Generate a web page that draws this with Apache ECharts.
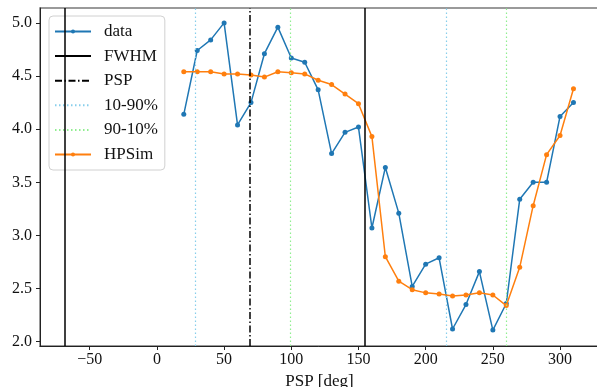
<!DOCTYPE html>
<html><head><meta charset="utf-8">
<script src="https://cdn.jsdelivr.net/npm/echarts@6/dist/echarts.min.js"></script>
<style>html,body{margin:0;padding:0;background:#fff}#c{width:597px;height:387px}</style>
</head><body><div id="c"></div>
<script>
const psp = [20,30,40,50,60,70,80,90,100,110,120,130,140,150,160,170,180,190,200,210,220,230,240,250,260,270,280,290,300,310];
const dataVals = [4.14,4.74,4.84,5.00,4.04,4.25,4.71,4.96,4.67,4.63,4.37,3.77,3.97,4.02,3.07,3.64,3.21,2.52,2.73,2.79,2.12,2.35,2.66,2.11,2.36,3.34,3.50,3.50,4.12,4.25];
const hpsimVals = [4.54,4.54,4.54,4.52,4.52,4.51,4.49,4.54,4.53,4.52,4.46,4.42,4.33,4.24,3.93,2.80,2.57,2.49,2.46,2.45,2.43,2.44,2.46,2.44,2.34,2.70,3.28,3.76,3.94,4.38];
const fwhmX = [-68.5, 154.8];
const pspX = [69.2];
const r1090X = [28.2, 215.6];
const r9010X = [99.5, 259.8];
const xTicks = [-50,0,50,100,150,200,250,300];
const yTicks = [2.0,2.5,3.0,3.5,4.0,4.5,5.0];

const FONT = 'Liberation Serif';
const chart = echarts.init(document.getElementById('c'), null, {renderer:'canvas'});
function vline(name, xs, color, type, width){
  return {
    name, type:'line', data:[], symbol:'none', showSymbol:false,
    lineStyle:{color, type, width}, itemStyle:{color},
    markLine:{silent:true, symbol:'none', label:{show:false}, animation:false,
      lineStyle:{color, type, width},
      data: xs.map(v=>({xAxis:v}))}
  };
}
chart.setOption({
  animation:false,
  textStyle:{fontFamily:FONT},
  grid:{left:40, top:8, width:559, height:338, containLabel:false, outerBoundsMode:'none',
    show:true, borderColor:'#7a7a7a', borderWidth:1.5, backgroundColor:'transparent'},
  legend:{
    orient:'vertical', left:49, top:16,
    padding:[7,7,7,5], itemWidth:36, itemHeight:5, itemGap:7.6,
    backgroundColor:'#fff', borderColor:'#d0d0d0', borderWidth:1, borderRadius:4,
    textStyle:{fontFamily:FONT, fontSize:17, lineHeight:17, color:'#111', padding:[0,0,0,8]},
    data:[
      {name:'data'},
      {name:'FWHM', itemStyle:{opacity:0}},
      {name:'PSP', itemStyle:{opacity:0}},
      {name:'10-90%', itemStyle:{opacity:0}},
      {name:'90-10%', itemStyle:{opacity:0}},
      {name:'HPSim'}
    ]
  },
  xAxis:{
    type:'value', min:-87, max:329,
    name:'PSP [deg]', nameLocation:'middle', nameGap:27,
    nameTextStyle:{fontFamily:FONT, fontSize:17, color:'#111'},
    splitLine:{show:false},
    axisLine:{onZero:false, lineStyle:{color:'#222', width:1}},
    axisTick:{inside:false, length:4, lineStyle:{color:'#222'}, customValues:xTicks},
    axisLabel:{fontFamily:FONT, fontSize:16, color:'#111', margin:6, customValues:xTicks,
      formatter:v=>String(v).replace('-','\u2212')}
  },
  yAxis:{
    type:'value', min:1.96, max:5.14,
    splitLine:{show:false},
    axisLine:{show:true, onZero:false, lineStyle:{color:'#222', width:1}},
    axisTick:{show:true, length:4, lineStyle:{color:'#222'}, customValues:yTicks},
    axisLabel:{fontFamily:FONT, fontSize:16, color:'#111', margin:8, customValues:yTicks,
      formatter:v=>v.toFixed(1)}
  },
  series:[
    {name:'data', type:'line', data:psp.map((x,i)=>[x,dataVals[i]]),
      symbol:'circle', symbolSize:5, showAllSymbol:true,
      lineStyle:{color:'#1f77b4', width:1.5}, itemStyle:{color:'#1f77b4'}, z:3},
    vline('FWHM', fwhmX, '#000', 'solid', 1.5),
    vline('PSP', pspX, '#000', [7,2.5,1.5,2.5], 1.5),
    vline('10-90%', r1090X, '#87ceeb', [1.5,2.5], 1.2),
    vline('90-10%', r9010X, '#90ee90', [1.5,2.5], 1.2),
    {name:'HPSim', type:'line', data:psp.map((x,i)=>[x,hpsimVals[i]]),
      symbol:'circle', symbolSize:5, showAllSymbol:true,
      lineStyle:{color:'#ff7f0e', width:1.5}, itemStyle:{color:'#ff7f0e'}, z:4}
  ]
});
</script></body></html>
